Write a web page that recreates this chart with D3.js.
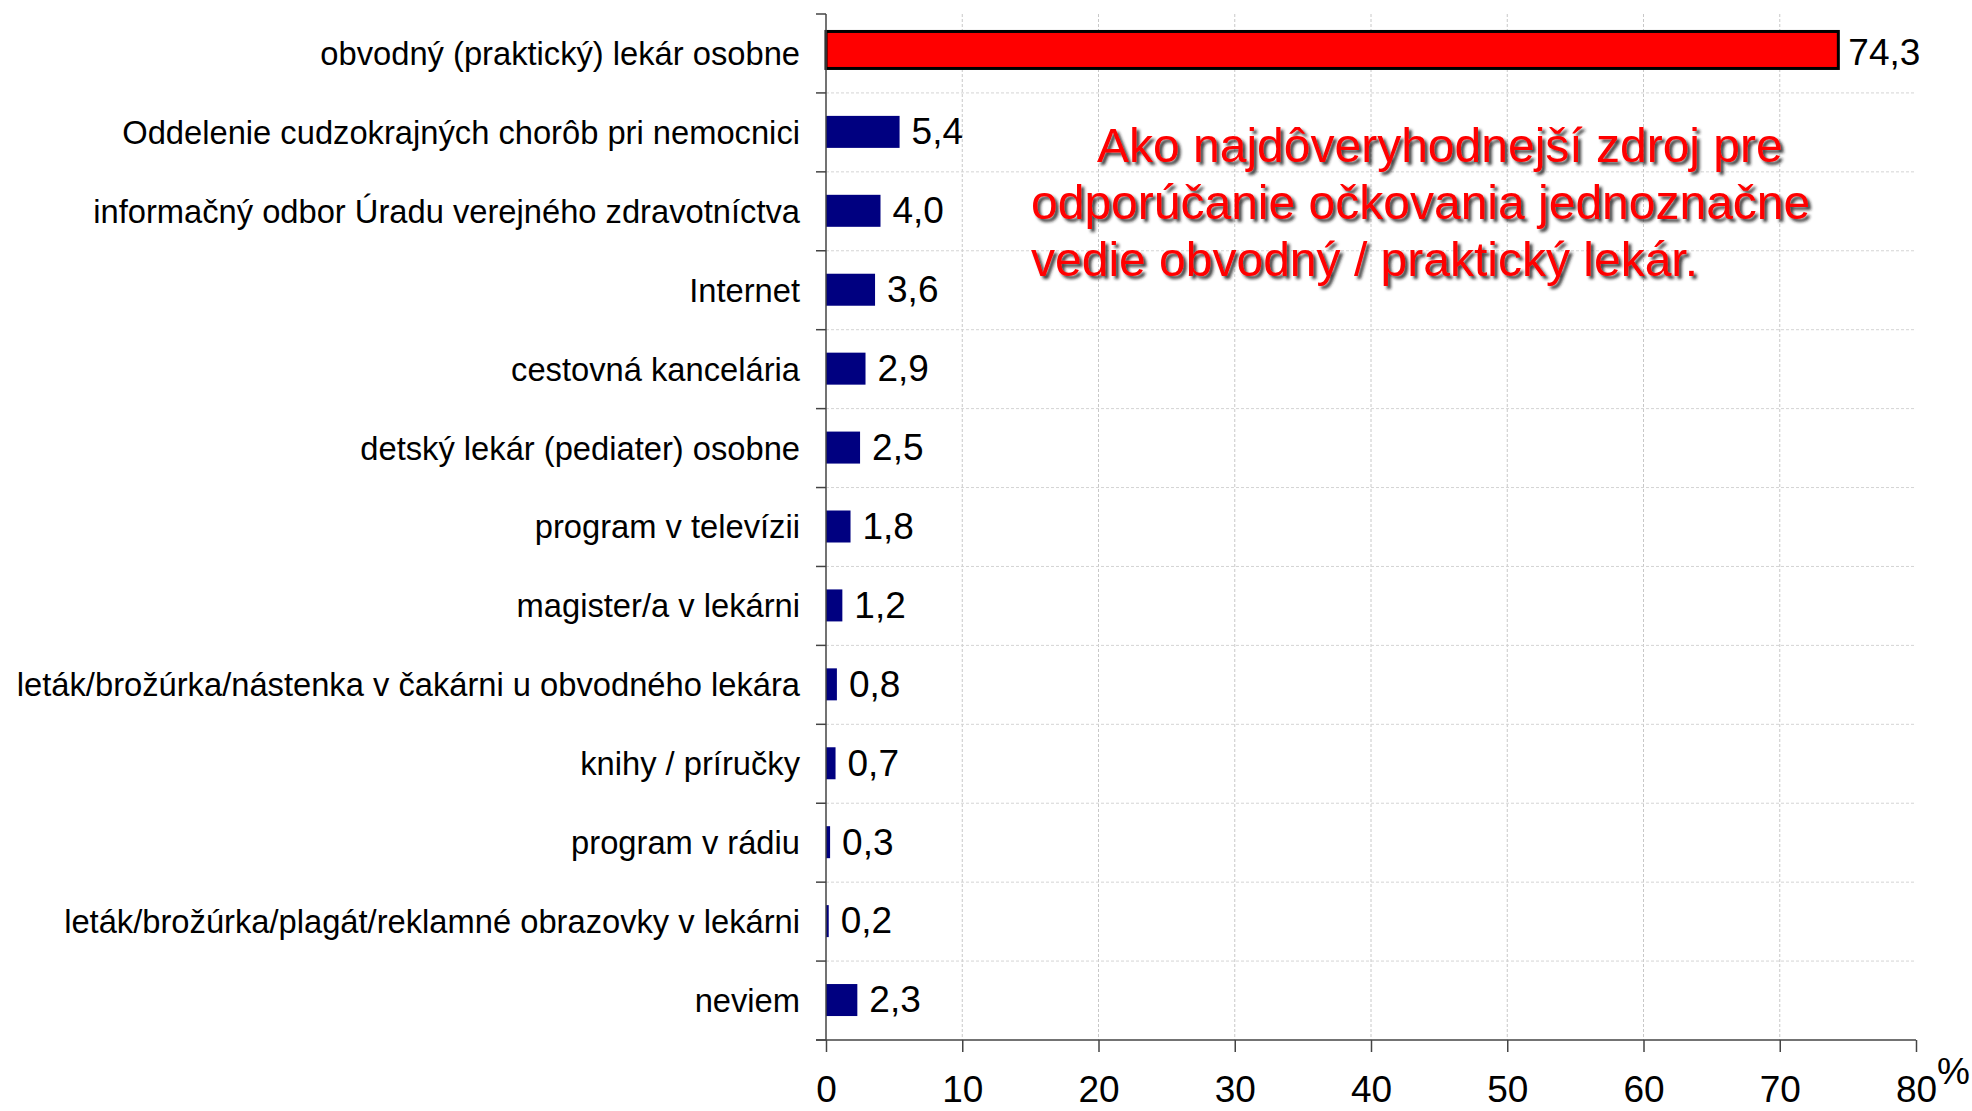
<!DOCTYPE html>
<html>
<head>
<meta charset="utf-8">
<script src="https://cdn.jsdelivr.net/npm/d3@7"></script>
<style>
  html, body { margin: 0; padding: 0; background: #fff; }
  svg { display: block; font-family: "Liberation Sans", Arial, sans-serif; }
</style>
</head>
<body>
<svg id="chart" width="1972" height="1111"></svg>
<script>
const categories = [
  "obvodný (praktický) lekár osobne",
  "Oddelenie cudzokrajných chorôb pri nemocnici",
  "informačný odbor Úradu verejného zdravotníctva",
  "Internet",
  "cestovná kancelária",
  "detský lekár (pediater) osobne",
  "program v televízii",
  "magister/a v lekárni",
  "leták/brožúrka/nástenka v čakárni u obvodného lekára",
  "knihy / príručky",
  "program v rádiu",
  "leták/brožúrka/plagát/reklamné obrazovky v lekárni",
  "neviem"
];
const values = [74.3, 5.4, 4.0, 3.6, 2.9, 2.5, 1.8, 1.2, 0.8, 0.7, 0.3, 0.2, 2.3];
const highlighted = ["obvodný (praktický) lekár osobne"];
const xTicks = [0, 10, 20, 30, 40, 50, 60, 70, 80];
const xUnit = "%";
const annotationLines = [
  "Ako najdôveryhodnejší zdroj pre",
  "odporúčanie očkovania jednoznačne",
  "vedie obvodný / praktický lekár."
];

(function () {
const svg = d3.select("#chart");
const pL = 826, pR = 1916, pT = 14, pB = 1040;

const x = d3.scaleLinear().domain([0, 80]).range([pL, pR]);
const y = d3.scaleBand().domain(categories).range([pT, pB]).padding(0);

const locale = d3.formatLocale({decimal: ",", thousands: " ", grouping: [3], currency: ["", ""]});
const fmt = locale.format(".1f");

const data = categories.map((c, i) => ({cat: c, val: values[i], hi: highlighted.includes(c)}));

const defs = svg.append("defs");
const f = defs.append("filter").attr("id", "shadow").attr("x", "-10%").attr("y", "-20%").attr("width", "130%").attr("height", "150%");
f.append("feDropShadow").attr("dx", 3).attr("dy", 3).attr("stdDeviation", 1.6)
  .attr("flood-color", "#222").attr("flood-opacity", 0.85);

// vertical gridlines
svg.append("g").selectAll("line").data(xTicks.filter(t => t > 0 && t < 80)).join("line")
  .attr("x1", d => x(d)).attr("x2", d => x(d))
  .attr("y1", pT).attr("y2", pB)
  .attr("stroke", "#c8c8c8").attr("stroke-width", 1).attr("stroke-dasharray", "3,2");

// horizontal gridlines at category boundaries
svg.append("g").selectAll("line").data(categories.slice(1)).join("line")
  .attr("x1", pL).attr("x2", pR)
  .attr("y1", d => y(d)).attr("y2", d => y(d))
  .attr("stroke", "#d4d4d4").attr("stroke-width", 1).attr("stroke-dasharray", "3,2");

// bars
const blueH = 32, redH = 37;
svg.append("g").selectAll("rect").data(data).join("rect")
  .attr("x", x(0))
  .attr("y", d => d.hi ? y(d.cat) + y.bandwidth() / 2 - 3.5 - redH / 2 : y(d.cat) + y.bandwidth() / 2 - 0.5 - blueH / 2)
  .attr("width", d => x(d.val) - x(0))
  .attr("height", d => d.hi ? redH : blueH)
  .attr("fill", d => d.hi ? "#ff0000" : "#000080")
  .attr("stroke", d => d.hi ? "#000" : "none")
  .attr("stroke-width", d => d.hi ? 3 : 0);

// value labels
svg.append("g").selectAll("text").data(data).join("text")
  .attr("x", d => x(d.val) + (d.hi ? 10 : 12))
  .attr("y", d => y(d.cat) + y.bandwidth() / 2)
  .attr("dy", "0.32em")
  .attr("font-size", 37)
  .attr("fill", "#000")
  .text(d => fmt(d.val));

// category labels
svg.append("g").selectAll("text").data(categories).join("text")
  .attr("x", 800)
  .attr("y", d => y(d) + y.bandwidth() / 2)
  .attr("dy", "0.35em")
  .attr("text-anchor", "end")
  .attr("font-size", 32.7)
  .attr("fill", "#000")
  .text(d => d);

// y axis line and boundary ticks
const yAxisG = svg.append("g");
yAxisG.append("line").attr("x1", pL).attr("x2", pL).attr("y1", pT).attr("y2", pB)
  .attr("stroke", "#444").attr("stroke-width", 1.5);
yAxisG.selectAll("line.tk").data(categories.map(c => y(c)).concat([pB])).join("line")
  .attr("class", "tk")
  .attr("x1", pL - 10).attr("x2", pL)
  .attr("y1", d => d).attr("y2", d => d)
  .attr("stroke", "#444").attr("stroke-width", 1.5);

// x axis
const xAxis = d3.axisBottom(x).tickValues(xTicks).tickSize(12).tickPadding(24).tickSizeOuter(0)
  .tickFormat(d3.format("d"));
const xg = svg.append("g").attr("transform", `translate(0,${pB})`).call(xAxis);
xg.select(".domain").attr("stroke", "#444").attr("stroke-width", 1.5).attr("d", `M${pL - 10},0H${pR}`);
xg.selectAll(".tick line").attr("stroke", "#444").attr("stroke-width", 1.5);
xg.selectAll(".tick text").attr("font-size", 37).attr("fill", "#000")
  .attr("font-family", "\"Liberation Sans\", Arial, sans-serif");

svg.append("text").attr("x", pR + 21).attr("y", 1084)
  .attr("font-size", 37).attr("fill", "#000").text(xUnit);

// annotation
const ann = svg.append("g").attr("filter", "url(#shadow)");
const annX = [1097, 1031, 1031];
const annY = [162, 219, 276];
ann.selectAll("text").data(annotationLines).join("text")
  .attr("x", (d, i) => annX[i])
  .attr("y", (d, i) => annY[i])
  .attr("font-size", 48)
  .attr("fill", "#ff0000")
  .text(d => d);
})();
</script>
</body>
</html>
